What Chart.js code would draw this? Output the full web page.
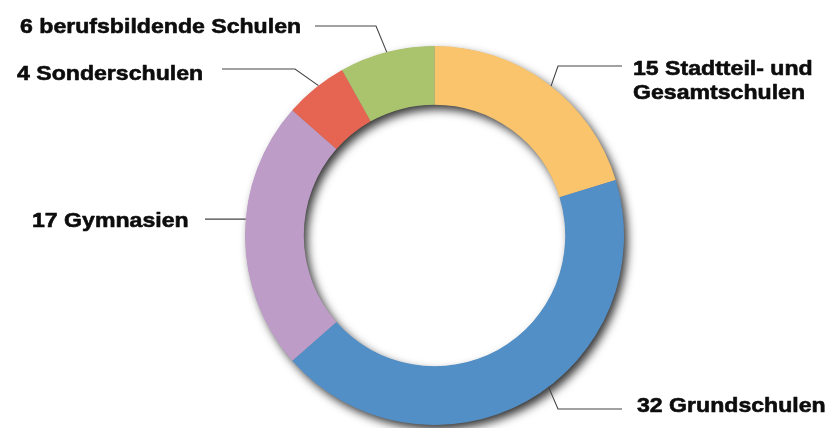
<!DOCTYPE html>
<html>
<head>
<meta charset="utf-8">
<script src="https://cdn.jsdelivr.net/npm/chart.js@4/dist/chart.umd.min.js"></script>
<style>
  html, body { margin: 0; padding: 0; background: #ffffff; }
  #wrap { width: 830px; height: 428px; }
</style>
</head>
<body>
<div id="wrap"><canvas id="c" width="830" height="428"></canvas></div>
<script>
// ---- data ----
const categories = [
  "15 Stadtteil- und Gesamtschulen",
  "32 Grundschulen",
  "17 Gymnasien",
  "4 Sonderschulen",
  "6 berufsbildende Schulen"
];
const labelLines = [
  ["15 Stadtteil- und", "Gesamtschulen"],
  ["32 Grundschulen"],
  ["17 Gymnasien"],
  ["4 Sonderschulen"],
  ["6 berufsbildende Schulen"]
];
const values = [15, 32, 17, 4, 6];
const colors = ["#F9C46C", "#528FC7", "#BD9DC8", "#E66452", "#AAC46D"];

// ---- label layout (annotation placement) ----
// frac: where along the arc the leader touches; elbow / end: leader path; tx,ty: text left/baseline
const labelLayout = [
  { frac: 0.52, elbow: [558, 66],  end: [622, 66],  tx: 633, ty: 75 },
  { frac: 0.45, elbow: [558, 409], end: [622, 409], tx: 637, ty: 412 },
  { frac: 0.56, elbow: null,       end: [205, null], tx: 32,  ty: 227 },
  { frac: 0.56, elbow: [295, 69],  end: [222, 69],  tx: 17,  ty: 80 },
  { frac: 0.50, elbow: [376, 26],  end: [315, 26],  tx: 20,  ty: 33 }
];

const ringShadow = {
  id: 'ringShadow',
  beforeDatasetsDraw(chart) {
    const arc = chart.getDatasetMeta(0).data[0];
    if (!arc) return;
    const {x, y, outerRadius, innerRadius} = arc.getProps(['x','y','outerRadius','innerRadius'], true);
    const ctx = chart.ctx;
    ctx.save();
    ctx.shadowColor = 'rgba(0,0,0,0.8)';
    ctx.shadowBlur = 10;
    ctx.shadowOffsetX = 4;
    ctx.shadowOffsetY = 5;
    ctx.beginPath();
    ctx.arc(x, y, outerRadius - 0.5, 0, Math.PI * 2);
    ctx.arc(x, y, innerRadius + 0.5, 0, Math.PI * 2, true);
    ctx.fillStyle = '#888';
    ctx.fill('evenodd');
    ctx.restore();
  }
};

const leaderLabels = {
  id: 'leaderLabels',
  afterDatasetsDraw(chart) {
    const ctx = chart.ctx;
    const meta = chart.getDatasetMeta(0);
    meta.data.forEach((arc, i) => {
      const p = arc.getProps(['x','y','startAngle','endAngle','outerRadius'], true);
      const L = labelLayout[i];
      const a = p.startAngle + L.frac * (p.endAngle - p.startAngle);
      const ax = p.x + p.outerRadius * Math.cos(a);
      const ay = p.y + p.outerRadius * Math.sin(a);
      ctx.save();
      ctx.strokeStyle = '#444444';
      ctx.lineWidth = 1.1;
      ctx.beginPath();
      ctx.moveTo(ax, ay);
      if (L.elbow) ctx.lineTo(L.elbow[0], L.elbow[1]);
      ctx.lineTo(L.end[0], L.end[1] === null ? ay : L.end[1]);
      ctx.stroke();
      ctx.fillStyle = '#0d0d0d';
      ctx.strokeStyle = '#0d0d0d';
      ctx.lineWidth = 0.6;
      ctx.lineJoin = 'round';
      ctx.font = 'bold 21px "Liberation Sans", Arial, sans-serif';
      ctx.textBaseline = 'alphabetic';
      ctx.textAlign = 'left';
      labelLines[i].forEach((t, k) => {
        ctx.save();
        ctx.translate(L.tx, L.ty + k * 24);
        ctx.scale(1.1, 1);
        ctx.fillText(t, 0, 0);
        ctx.strokeText(t, 0, 0);
        ctx.restore();
      });
      ctx.restore();
    });
  }
};

new Chart(document.getElementById('c'), {
  type: 'doughnut',
  data: {
    labels: categories,
    datasets: [{
      data: values,
      backgroundColor: colors,
      borderWidth: 0,
      hoverOffset: 0
    }]
  },
  options: {
    responsive: false,
    animation: false,
    cutout: '69%',
    layout: { padding: { left: 39, right: 0, top: 46, bottom: 3 } },
    plugins: {
      legend: { display: false },
      tooltip: { enabled: false }
    }
  },
  plugins: [ringShadow, leaderLabels]
});
</script>
</body>
</html>
